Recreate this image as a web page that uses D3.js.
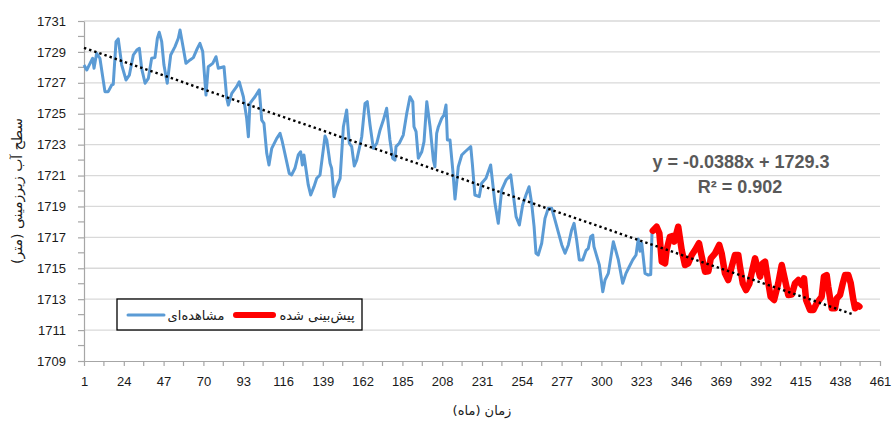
<!DOCTYPE html>
<html>
<head>
<meta charset="utf-8">
<script src="https://cdn.jsdelivr.net/npm/d3@7"></script>
<style>
  body { margin: 0; background: #fff; }
  text { font-family: "Liberation Sans", Arial, sans-serif; }
  .fa { font-family: "DejaVu Sans", sans-serif; }
</style>
</head>
<body>
<div id="container"></div>
<script>
// datos (mes, nivel en m)
var obsMonths = [1, 2.6, 4.5, 6, 6.8, 8.3, 10.2, 13.1, 15, 17, 17.9, 19.5, 20.8, 22.8, 25.3, 27.2, 29.5, 31.5, 33, 34.3,
  36.3, 38.2, 40.1, 42, 43.4, 44.5, 45.9, 47.2, 49.1, 51.1, 53.6, 55.5, 56.5, 58.4, 59.9, 62.3, 64.2, 66.5, 68, 69.6,
  71.5, 72.8, 75.4, 77.3, 78.6, 81.9, 83.5, 84.4, 86.4, 89.2, 90.7, 93.1, 95, 96, 96.9, 99.8, 102.3, 103.7, 105, 106.6,
  107.9, 109.5, 112.4, 114.3, 115.6, 119.6, 121, 122.9, 124.8, 126.2, 127.2, 128.1, 130.6, 132, 133.9, 135.5, 137.4, 140.3, 141.3, 143.2,
  144.1, 145.5, 147, 149, 150.9, 152.8, 154.3, 155.7, 157.2, 158.6, 160.1, 161.5, 163.4, 164.7, 166.3, 168.2, 170.2, 172.1, 174, 175.9,
  177.8, 179.4, 180.7, 181.3, 183.2, 185.5, 187.5, 189.4, 191, 191.7, 192.9, 194.2, 196.2, 197.5, 199.1, 201, 202.9, 203.8, 204.8, 205.8,
  207.7, 209, 210.2, 211, 212.5, 214.1, 215.4, 217.3, 219.3, 221.2, 224.5, 225.4, 226.9, 229.4, 230.8, 233.3, 236, 238.5, 240.4, 242.4,
  244.9, 247.6, 250.7, 252.6, 254.5, 256.4, 258.2, 259.7, 261.1, 262.2, 263.5, 265.5, 267.4, 269.3, 271.3, 273.2, 277.1, 279, 280.9, 282.8,
  284.2, 285.7, 287.2, 289.2, 291.1, 292.4, 293.8, 295, 295.7, 298.8, 300.8, 302.1, 304, 306.9, 309.8, 312.3, 314.2, 316.1, 318.1, 320,
  321.3, 322.3, 323.3, 325.2, 327.1, 328.5, 329.3];
var obsLevels = [1728.15, 1727.83, 1728.26, 1728.59, 1727.94, 1728.91, 1728.59, 1726.43, 1726.43, 1726.86, 1726.9, 1729.66, 1729.84, 1728.15, 1727.18, 1727.5, 1728.8, 1729.12, 1729.23, 1727.94,
  1726.97, 1727.29, 1728.59, 1728.63, 1729.88, 1730.27, 1729.66, 1728.15, 1726.97, 1728.8, 1729.34, 1729.88, 1730.42, 1729.23, 1728.26, 1728.48, 1728.63, 1729.23, 1729.55, 1729.02,
  1726.21, 1728.04, 1728.26, 1728.69, 1727.94, 1728.04, 1726.0, 1725.56, 1726.32, 1726.75, 1727.07, 1726.1, 1724.7, 1723.51, 1725.67, 1726.1, 1726.54, 1724.59, 1724.38, 1722.44,
  1721.68, 1722.76, 1723.41, 1723.73, 1723.19, 1721.14, 1721.04, 1721.47, 1722.33, 1722.54, 1721.68, 1722.33, 1720.39, 1719.74, 1720.28, 1720.82, 1721.04, 1723.56, 1723.3, 1721.79,
  1721.47, 1719.63, 1720.28, 1720.82, 1724.16, 1725.24, 1723.09, 1722.87, 1721.62, 1722.0, 1722.76, 1723.51, 1725.67, 1725.78, 1724.27, 1722.76, 1723.09, 1723.95, 1724.59, 1725.35,
  1723.3, 1722.12, 1722.0, 1722.87, 1723.09, 1723.62, 1725.02, 1726.1, 1725.78, 1724.16, 1723.84, 1722.12, 1722.54, 1723.19, 1725.78, 1724.16, 1722.0, 1721.57, 1723.73, 1724.16,
  1724.7, 1724.92, 1725.56, 1723.3, 1723.3, 1721.36, 1719.48, 1721.57, 1722.33, 1722.54, 1722.87, 1721.79, 1719.74, 1719.63, 1720.5, 1720.82, 1721.68, 1719.2, 1717.91, 1720.07,
  1720.71, 1721.04, 1718.34, 1717.8, 1719.09, 1719.74, 1720.28, 1719.2, 1717.69, 1715.97, 1715.86, 1716.62, 1718.23, 1718.88, 1718.88, 1718.12, 1716.51, 1715.97, 1716.51, 1717.48,
  1717.91, 1716.83, 1715.54, 1715.54, 1716.14, 1716.29, 1717.04, 1717.15, 1716.4, 1715.21, 1713.48, 1714.24, 1714.67, 1716.72, 1715.54, 1714.03, 1714.67, 1715.1, 1715.54, 1715.86,
  1716.9, 1716.1, 1716.62, 1714.67, 1714.56, 1714.6, 1717.48];

var predMonths = [329.7, 331.9, 333.5, 334.9, 336.8, 337.7, 339.6, 341.4, 342.1, 344.4, 346.4, 348.3, 350.2, 352.2, 354.1, 356.4, 358, 359.9, 361.8, 363.2,
  365.7, 368.1, 369.5, 371.4, 373.3, 375.3, 377.2, 379.1, 380.1, 381.7, 383.6, 385.5, 387.4, 388.8, 390.1, 391.7, 393.2, 394.6, 396.5, 397.8,
  399.8, 402.2, 404.2, 406.1, 408, 410, 411.9, 413.8, 415.8, 417.1, 418.3, 420.6, 422.5, 424.4, 427.3, 428.6, 430.2, 431.1, 433.1, 435,
  436, 437.9, 439.5, 440.8, 442.7, 444.1, 445.6, 446.6, 447.9, 449.1];
var predLevels = [1717.43, 1717.69, 1717.26, 1715.43, 1715.32, 1716.18, 1717.04, 1717.1, 1716.72, 1717.69, 1716.18, 1715.21, 1715.32, 1715.86, 1716.18, 1716.62, 1715.75, 1714.78, 1714.8, 1715.64,
  1715.97, 1716.51, 1715.97, 1714.67, 1714.24, 1715.1, 1715.86, 1715.86, 1715.1, 1714.03, 1713.59, 1714.0, 1714.99, 1715.64, 1715.1, 1714.46, 1715.32, 1715.43, 1714.03, 1713.16,
  1712.95, 1714.03, 1715.21, 1714.24, 1713.27, 1713.3, 1714.03, 1714.24, 1713.92, 1714.35, 1712.95, 1712.3, 1712.3, 1712.73, 1713.16, 1714.46, 1714.56, 1713.81, 1712.41, 1712.41,
  1713.05, 1713.27, 1714.03, 1714.56, 1714.56, 1714.03, 1712.95, 1712.41, 1712.62, 1712.52];

// linea de tendencia (ecuacion del grafico)
var trendSlope = -0.0388, trendIntercept = 1729.3;
var trendMonths = [1, 445.6];

var xTickLabels = [1, 24, 47, 70, 93, 116, 139, 162, 185, 208, 231, 254, 277, 300, 323, 346, 369, 392, 415, 438, 461];
var yTickLabels = [1709, 1711, 1713, 1715, 1717, 1719, 1721, 1723, 1725, 1727, 1729, 1731];

var svgWidth = 893, svgHeight = 421;
var margin = { top: 21, left: 84, right: 13, bottom: 60 };
var Width = svgWidth - margin.left - margin.right,
    Height = svgHeight - margin.top - margin.bottom;

var svg = d3.select("#container").append("svg")
    .attr("width", svgWidth)
    .attr("height", svgHeight);

var xScale = d3.scaleLinear().domain([1, 461]).range([margin.left, margin.left + Width]);
var yScale = d3.scaleLinear().domain([1709, 1731]).range([margin.top + Height, margin.top]);

// lineas de la grilla
svg.append("g").selectAll("line")
    .data(yTickLabels.slice(1))
    .enter().append("line")
    .attr("x1", margin.left).attr("x2", margin.left + Width)
    .attr("y1", function (d) { return yScale(d); })
    .attr("y2", function (d) { return yScale(d); })
    .attr("stroke", "#d9d9d9")
    .attr("stroke-width", 1.3);

// ticks menores (cada 1 m y cada 11.5 meses)
var yMinor = [];
yTickLabels.forEach(function (v, i) { if (i < yTickLabels.length - 1) yMinor.push(v + 1); });
var xMinor = [];
xTickLabels.forEach(function (v, i) { if (i < xTickLabels.length - 1) xMinor.push(v + 11.5); });

var yAxis = d3.axisLeft(yScale).tickValues(yTickLabels).tickFormat(d3.format("d"))
    .tickSize(6).tickPadding(12).tickSizeOuter(0);
var yGroup = svg.append("g").attr("transform", "translate(" + margin.left + ",0)").call(yAxis);
yGroup.append("g").selectAll("line").data(yMinor).enter().append("line")
    .attr("x1", -6).attr("x2", 0)
    .attr("y1", function (d) { return yScale(d); }).attr("y2", function (d) { return yScale(d); });

var xAxis = d3.axisBottom(xScale).tickValues(xTickLabels).tickFormat(d3.format("d"))
    .tickSize(5).tickPadding(11).tickSizeOuter(0);
var xGroup = svg.append("g").attr("transform", "translate(0," + (margin.top + Height) + ")").call(xAxis);
xGroup.append("g").selectAll("line").data(xMinor).enter().append("line")
    .attr("y1", 0).attr("y2", 5)
    .attr("x1", function (d) { return xScale(d); }).attr("x2", function (d) { return xScale(d); });

[xGroup, yGroup].forEach(function (g) {
    g.selectAll("path, line").attr("stroke", "#a6a6a6").attr("stroke-width", 1.2);
    g.selectAll("text").attr("font-size", 13).attr("fill", "#1a1a1a")
        .style("font-family", "'Liberation Sans', Arial, sans-serif");
});

// lineas de datos
var line = d3.line()
    .x(function (d) { return xScale(d[0]); })
    .y(function (d) { return yScale(d[1]); });

var obsData = obsMonths.map(function (m, i) { return [m, obsLevels[i]]; });
var predData = predMonths.map(function (m, i) { return [m, predLevels[i]]; });

svg.append("path")
    .datum(obsData)
    .attr("d", line)
    .attr("fill", "none")
    .attr("stroke", "#5b9bd5")
    .attr("stroke-width", 3)
    .attr("stroke-linejoin", "round");

svg.append("path")
    .datum(predData)
    .attr("d", line)
    .attr("fill", "none")
    .attr("stroke", "#ff0000")
    .attr("stroke-width", 6.5)
    .attr("stroke-linejoin", "round")
    .attr("stroke-linecap", "round");

svg.append("path")
    .datum(trendMonths.map(function (m) { return [m, trendSlope * m + trendIntercept]; }))
    .attr("d", line)
    .attr("fill", "none")
    .attr("stroke", "#000")
    .attr("stroke-width", 2.4)
    .attr("stroke-dasharray", "2.4,3");

// ecuacion
svg.append("text")
    .attr("x", 741).attr("y", 168)
    .attr("text-anchor", "middle")
    .attr("font-size", 18).attr("font-weight", "bold").attr("fill", "#595959")
    .text("y = -0.0388x + 1729.3");
svg.append("text")
    .attr("x", 740).attr("y", 193)
    .attr("text-anchor", "middle")
    .attr("font-size", 18).attr("font-weight", "bold").attr("fill", "#595959")
    .text("R² = 0.902");

// titulos de ejes
svg.append("text")
    .attr("class", "fa")
    .attr("transform", "translate(22," + (margin.top + Height / 2) + ") rotate(-90)")
    .attr("text-anchor", "middle")
    .attr("direction", "rtl")
    .attr("font-size", 14).attr("fill", "#1a1a1a")
    .text("سطح آب زیرزمینی (متر)");

svg.append("text")
    .attr("class", "fa")
    .attr("x", margin.left + Width / 2).attr("y", 415)
    .attr("text-anchor", "middle")
    .attr("direction", "rtl")
    .attr("font-size", 13).attr("fill", "#1a1a1a")
    .text("زمان (ماه)");

// leyenda
var legend = svg.append("g");
legend.append("rect")
    .attr("x", 117).attr("y", 299).attr("width", 245).attr("height", 31)
    .attr("fill", "#fff").attr("stroke", "#000").attr("stroke-width", 1.3);
legend.append("line")
    .attr("x1", 128).attr("x2", 164).attr("y1", 315).attr("y2", 315)
    .attr("stroke", "#5b9bd5").attr("stroke-width", 3).attr("stroke-linecap", "round");
legend.append("text").attr("class", "fa")
    .attr("x", 196).attr("y", 320).attr("text-anchor", "middle").attr("direction", "rtl")
    .attr("font-size", 13).attr("fill", "#1a1a1a")
    .text("مشاهده‌ای");
legend.append("line")
    .attr("x1", 236).attr("x2", 273).attr("y1", 315).attr("y2", 315)
    .attr("stroke", "#ff0000").attr("stroke-width", 6).attr("stroke-linecap", "round");
legend.append("text").attr("class", "fa")
    .attr("x", 317).attr("y", 320).attr("text-anchor", "middle").attr("direction", "rtl")
    .attr("font-size", 13).attr("fill", "#1a1a1a")
    .text("پیش‌بینی شده");
</script>
</body>
</html>
